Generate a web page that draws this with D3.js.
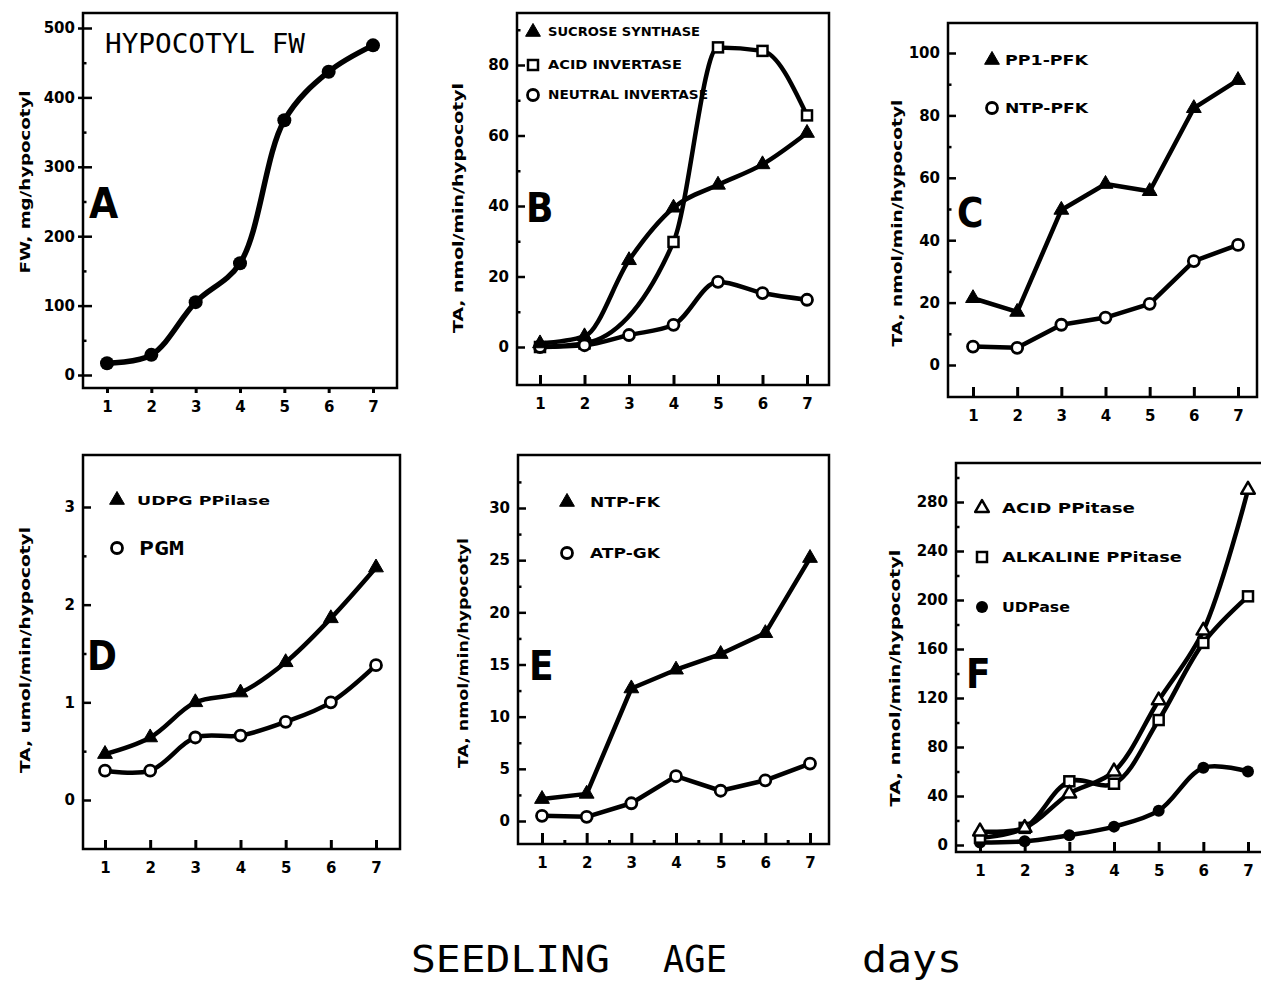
<!DOCTYPE html>
<html><head><meta charset="utf-8">
<script src="https://cdn.jsdelivr.net/npm/d3@7"></script>
<style>body{margin:0;background:#fff}svg{display:block}</style>
</head><body>
<script>
// ---------------- DATA ----------------
const days = [1, 2, 3, 4, 5, 6, 7];
const xTickLabels = ["1", "2", "3", "4", "5", "6", "7"];

const fwA = [17, 29, 105, 161, 367, 437, 475];

const sucroseSynthaseB = [1, 3, 24.6, 39.5, 46, 51.8, 60.7];
const acidInvertaseB = [0, 1, null, 29.8, 85, 84, 65.7];
const neutralInvertaseB = [0, 0.5, 3.4, 6.3, 18.5, 15.3, 13.4];

const ppiPfkC = [21.4, 17, 49.7, 58, 55.7, 82.3, 91.3];
const ntpPfkC = [5.9, 5.5, 12.9, 15.2, 19.6, 33.3, 38.5];

const udpgPPilaseD = [0.47, 0.64, 1.0, 1.1, 1.41, 1.86, 2.38];
const pgmD = [0.3, 0.3, 0.64, 0.66, 0.8, 1.0, 1.38];

const ntpFkE = [2.1, 2.6, 12.7, 14.5, 16, 18, 25.2];
const atpGkE = [0.5, 0.4, 1.7, 4.3, 2.9, 3.9, 5.5];

const acidPPitaseF = [11, 14, 42, 60, 118, 175, 290];
const alkalinePPitaseF = [6, 14, 52, 50, 102, 165, 203];
const udpaseF = [2, 3, 8, 15, 28, 63, 60];

const yTicksA = [0, 100, 200, 300, 400, 500], yMinorA = [50, 150, 250, 350, 450];
const yTicksB = [0, 20, 40, 60, 80], yMinorB = [10, 30, 50, 70, 90];
const yTicksC = [0, 20, 40, 60, 80, 100], yMinorC = [10, 30, 50, 70, 90];
const yTicksD = [0, 1, 2, 3], yMinorD = [0.5, 1.5, 2.5];
const yTicksE = [0, 5, 10, 15, 20, 25, 30], yMinorE = [2.5, 7.5, 12.5, 17.5, 22.5, 27.5, 32.5];
const yTicksF = [0, 40, 80, 120, 160, 200, 240, 280], yMinorF = [20, 60, 100, 140, 180, 220, 260, 300];

const yLabelA = "FW, mg/hypocotyl";
const yLabelTA = "TA, nmol/min/hypocotyl";
const yLabelD = "TA, umol/min/hypocotyl";

// ---------------- DRAW ----------------
const W = 1261, H = 985;
const svg = d3.select("body").append("svg").attr("width", W).attr("height", H);
svg.append("rect").attr("width", W).attr("height", H).attr("fill", "#fff");

const BOLD = "'DejaVu Sans', 'Liberation Sans', sans-serif";
const BIG = "'Liberation Sans Narrow', 'DejaVu Sans Condensed', sans-serif";
const MONO = "'DejaVu Sans Mono', 'Liberation Mono', monospace";
const SMOOTH = d3.curveCatmullRom.alpha(0.5);
const MONOTONE = d3.curveMonotoneX;
const STRAIGHT = d3.curveLinear;

function drawMarker(g, type, cx, cy) {
  if (type === "triFilled" || type === "triOpen") {
    g.append("path")
      .attr("d", d3.symbol(d3.symbolTriangle, type === "triFilled" ? 95 : 80)())
      .attr("transform", `translate(${cx},${cy})`)
      .attr("fill", type === "triFilled" ? "#000" : "#fff")
      .attr("stroke", "#000").attr("stroke-width", type === "triFilled" ? 1 : 2.5)
      .attr("stroke-linejoin", "round");
  } else if (type === "square") {
    g.append("rect").attr("x", cx - 5).attr("y", cy - 5).attr("width", 10).attr("height", 10)
      .attr("fill", "#fff").attr("stroke", "#000").attr("stroke-width", 2.5);
  } else if (type === "circleOpen") {
    g.append("circle").attr("cx", cx).attr("cy", cy).attr("r", 5.5)
      .attr("fill", "#fff").attr("stroke", "#000").attr("stroke-width", 2.8);
  } else if (type === "circleFilled") {
    g.append("circle").attr("cx", cx).attr("cy", cy).attr("r", 6).attr("fill", "#000");
  } else if (type === "circleBig") {
    g.append("circle").attr("cx", cx).attr("cy", cy).attr("r", 7).attr("fill", "#000");
  }
}

function panel(cfg) {
  const x = d3.scaleLinear().domain([1, 7]).range([cfg.x1, cfg.x7]);
  const y = d3.scaleLinear().domain([0, cfg.yRef]).range([cfg.y0, cfg.yRefPx]);
  const g = svg.append("g");

  g.append("g").attr("transform", `translate(${cfg.L},0)`)
    .call(d3.axisLeft(y).tickValues(cfg.yMinor).tickSizeInner(-3.5).tickSizeOuter(0).tickFormat(""))
    .call(a => a.select(".domain").remove())
    .call(a => a.selectAll("line").attr("stroke-width", 2.5));
  g.append("g").attr("transform", `translate(${cfg.L},0)`)
    .call(d3.axisLeft(y).tickValues(cfg.yTicks).tickSizeInner(-cfg.yIn).tickSizeOuter(0)
      .tickPadding(8).tickFormat(d3.format("~g")))
    .call(a => a.select(".domain").remove())
    .call(a => a.selectAll("line").attr("stroke-width", 2.5))
    .call(a => a.selectAll("text").attr("font-family", BOLD).attr("font-weight", "bold")
      .attr("font-size", 15).attr("fill", "#000"));
  if (cfg.yOut) {
    g.append("g").attr("transform", `translate(${cfg.L},0)`)
      .call(d3.axisLeft(y).tickValues(cfg.yTicks).tickSizeInner(cfg.yOut).tickSizeOuter(0).tickFormat(""))
      .call(a => a.select(".domain").remove())
      .call(a => a.selectAll("line").attr("stroke-width", 2.5));
  }
  g.append("g").attr("transform", `translate(0,${cfg.B})`)
    .call(d3.axisBottom(x).tickValues(days).tickFormat((d, i) => xTickLabels[i])
      .tickSizeInner(cfg.xOut ? cfg.xOut : -cfg.xIn).tickSizeOuter(0).tickPadding(cfg.xOut ? 8 : 13))
    .call(a => a.select(".domain").remove())
    .call(a => a.selectAll("line").attr("stroke-width", 3))
    .call(a => a.selectAll("text").attr("font-family", BOLD).attr("font-weight", "bold")
      .attr("font-size", 15).attr("fill", "#000"));
  if (cfg.xMinor) {
    g.append("g").attr("transform", `translate(0,${cfg.B})`)
      .call(d3.axisBottom(x).tickValues(cfg.xMinor).tickSizeInner(-4).tickSizeOuter(0).tickFormat(""))
      .call(a => a.select(".domain").remove())
      .call(a => a.selectAll("line").attr("stroke-width", 3));
  }

  g.append("rect").attr("x", cfg.L).attr("y", cfg.T)
    .attr("width", cfg.R - cfg.L).attr("height", cfg.B - cfg.T)
    .attr("fill", "none").attr("stroke", "#000").attr("stroke-width", 2.5);

  g.append("text").attr("transform", `translate(${cfg.labX},${cfg.labY}) rotate(-90)`)
    .attr("text-anchor", "middle").attr("dominant-baseline", "central")
    .attr("font-family", BOLD).attr("font-weight", "bold").attr("font-size", 14)
    .attr("textLength", cfg.labLen).attr("lengthAdjust", "spacingAndGlyphs")
    .text(cfg.yLabel);

  g.append("text").attr("x", cfg.letX).attr("y", cfg.letY)
    .attr("font-family", BIG).attr("font-weight", "bold").attr("font-size", cfg.letSize || 40)
    .text(cfg.letter);

  const line = d3.line().x(d => x(d.x)).y(d => y(d.y)).curve(cfg.curve || SMOOTH);
  cfg.series.forEach(s => {
    const pts = days.map((d, i) => ({ x: d, y: s.values[i] })).filter(p => p.y !== null);
    g.append("path").datum(pts).attr("d", line).attr("fill", "none")
      .attr("stroke", "#000").attr("stroke-width", cfg.lw || 4.5)
      .attr("stroke-linejoin", "round").attr("stroke-linecap", "round");
  });
  cfg.series.forEach(s => {
    const pts = days.map((d, i) => ({ x: d, y: s.values[i] })).filter(p => p.y !== null);
    pts.forEach(p => drawMarker(g, s.marker, x(p.x), y(p.y)));
  });

  (cfg.legend || []).forEach(l => {
    drawMarker(g, l.marker, l.x, l.y);
    g.append("text").attr("x", l.x + l.dx).attr("y", l.y).attr("dominant-baseline", "central")
      .attr("font-family", l.font || BOLD).attr("font-weight", "bold").attr("font-size", l.size || 13)
      .attr("textLength", l.len).attr("lengthAdjust", "spacingAndGlyphs")
      .text(l.label);
  });
  return g;
}

// Panel A
const gA = panel({
  L: 83, R: 397, T: 13, B: 388, x1: 107, x7: 373, y0: 375, yRef: 500, yRefPx: 28,
  yTicks: yTicksA, yMinor: yMinorA, yIn: 9, yOut: 5, xOut: 5,
  labX: 25, labY: 182, labLen: 183, yLabel: yLabelA,
  letter: "A", letX: 89, letY: 218, letSize: 42, lw: 5.5,
  series: [{ values: fwA, marker: "circleBig" }]
});
gA.append("text").attr("x", 105).attr("y", 53).attr("font-family", MONO).attr("font-size", 27)
  .attr("textLength", 200).attr("lengthAdjust", "spacingAndGlyphs").text("HYPOCOTYL FW");

// Panel B
panel({
  L: 517, R: 829, T: 13, B: 385, x1: 540, x7: 807, y0: 347, yRef: 80, yRefPx: 65,
  yTicks: yTicksB, yMinor: yMinorB, yIn: 8, xIn: 10, curve: MONOTONE,
  labX: 458, labY: 208, labLen: 250, yLabel: yLabelTA,
  letter: "B", letX: 526, letY: 222,
  series: [
    { values: acidInvertaseB, marker: "square" },
    { values: neutralInvertaseB, marker: "circleOpen" },
    { values: sucroseSynthaseB, marker: "triFilled" }
  ],
  legend: [
    { marker: "triFilled", x: 533, y: 32, dx: 15, label: "SUCROSE SYNTHASE", len: 152, size: 12 },
    { marker: "square", x: 533, y: 65, dx: 15, label: "ACID INVERTASE", len: 134, size: 12 },
    { marker: "circleOpen", x: 533, y: 95, dx: 15, label: "NEUTRAL INVERTASE", len: 160, size: 12 }
  ]
});

// Panel C
panel({
  L: 948, R: 1257, T: 23, B: 397, x1: 973, x7: 1238, y0: 365, yRef: 100, yRefPx: 53,
  yTicks: yTicksC, yMinor: yMinorC, yIn: 8, xIn: 10, curve: STRAIGHT,
  labX: 897, labY: 223, labLen: 247, yLabel: yLabelTA,
  letter: "C", letX: 957, letY: 227,
  series: [
    { values: ppiPfkC, marker: "triFilled" },
    { values: ntpPfkC, marker: "circleOpen" }
  ],
  legend: [
    { marker: "triFilled", x: 992, y: 60, dx: 13, label: "PP1-PFK", len: 83, size: 14 },
    { marker: "circleOpen", x: 992, y: 108, dx: 13, label: "NTP-PFK", len: 83, size: 14 }
  ]
});

// Panel D
panel({
  L: 83, R: 400, T: 455, B: 849, x1: 105, x7: 376, y0: 800, yRef: 3, yRefPx: 507,
  yTicks: yTicksD, yMinor: yMinorD, yIn: 8, xIn: 9,
  labX: 25, labY: 650, labLen: 246, yLabel: yLabelD,
  letter: "D", letX: 87, letY: 670,
  series: [
    { values: udpgPPilaseD, marker: "triFilled" },
    { values: pgmD, marker: "circleOpen" }
  ],
  legend: [
    { marker: "triFilled", x: 117, y: 500, dx: 20, label: "UDPG PPilase", len: 133, size: 13 },
    { marker: "circleOpen", x: 117, y: 548, dx: 22, label: "PGM", len: 45, size: 19, font: MONO }
  ]
});

// Panel E
panel({
  L: 518, R: 829, T: 455, B: 844, x1: 542, x7: 810, y0: 821, yRef: 30, yRefPx: 508,
  yTicks: yTicksE, yMinor: yMinorE, yIn: 8, xIn: 11, xMinor: [1.5, 2.5, 3.5, 4.5, 5.5, 6.5],
  curve: STRAIGHT,
  labX: 463, labY: 653, labLen: 230, yLabel: yLabelTA,
  letter: "E", letX: 529, letY: 680,
  series: [
    { values: ntpFkE, marker: "triFilled" },
    { values: atpGkE, marker: "circleOpen" }
  ],
  legend: [
    { marker: "triFilled", x: 567, y: 502, dx: 23, label: "NTP-FK", len: 70, size: 14 },
    { marker: "circleOpen", x: 567, y: 553, dx: 23, label: "ATP-GK", len: 70, size: 14 }
  ]
});

// Panel F
panel({
  L: 956, R: 1275, T: 463, B: 852, x1: 980, x7: 1248, y0: 845, yRef: 280, yRefPx: 502,
  yTicks: yTicksF, yMinor: yMinorF, yIn: 8, xIn: 10,
  labX: 895, labY: 678, labLen: 257, yLabel: yLabelTA,
  letter: "F", letX: 966, letY: 688,
  series: [
    { values: udpaseF, marker: "circleFilled" },
    { values: alkalinePPitaseF, marker: "square" },
    { values: acidPPitaseF, marker: "triOpen" }
  ],
  legend: [
    { marker: "triOpen", x: 982, y: 508, dx: 20, label: "ACID PPitase", len: 133, size: 14 },
    { marker: "square", x: 982, y: 557, dx: 20, label: "ALKALINE PPitase", len: 180, size: 14 },
    { marker: "circleFilled", x: 982, y: 607, dx: 20, label: "UDPase", len: 68, size: 14 }
  ]
});

// Common x-axis title
const titleParts = [["SEEDLING", 411, 199], ["AGE", 663, 64], ["days", 862, 100]];
titleParts.forEach(([t, x0, len]) => {
  svg.append("text").attr("x", x0).attr("y", 972).attr("font-family", MONO).attr("font-size", 38)
    .attr("textLength", len).attr("lengthAdjust", "spacingAndGlyphs").text(t);
});
</script>
</body></html>
